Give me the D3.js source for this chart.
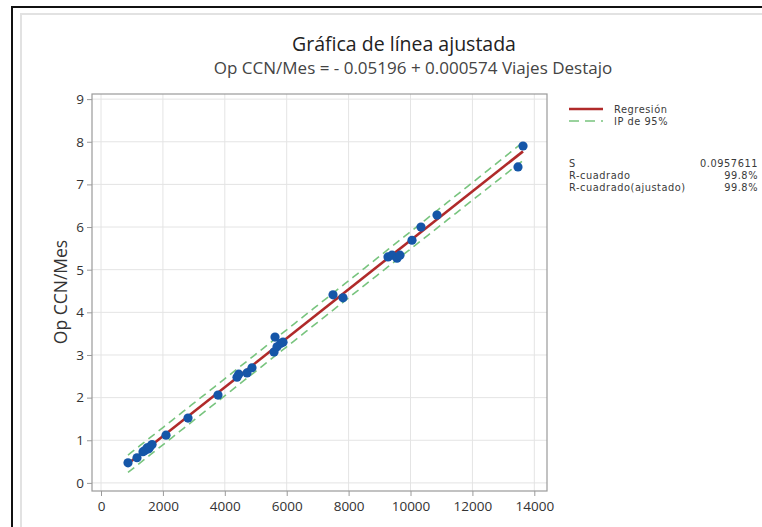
<!DOCTYPE html>
<html>
<head>
<meta charset="utf-8">
<script src="https://cdn.jsdelivr.net/npm/d3@7"></script>
<style>
  html, body { margin: 0; padding: 0; background: #fff; }
  svg { display: block; font-family: "Open Sans", "Noto Sans", sans-serif; }
</style>
</head>
<body>
<svg id="chart" width="762" height="527"></svg>
<script>
// Observations: Viajes Destajo vs Op CCN/Mes
const viajes = [872, 1163, 1357, 1420, 1486, 1540, 1583, 1650, 2100, 2811, 3780,
  4394, 4450, 4717, 4879, 5590, 5622, 5687, 5800, 5880,
  7496, 7819, 9273, 9402, 9564, 9660, 10048, 10339, 10856, 13473, 13635];
const opCCN = [0.47, 0.59, 0.73, 0.76, 0.82, 0.80, 0.85, 0.90, 1.12, 1.52, 2.06,
  2.48, 2.55, 2.58, 2.70, 3.07, 3.42, 3.19, 3.27, 3.30,
  4.41, 4.34, 5.30, 5.34, 5.27, 5.34, 5.69, 6.00, 6.28, 7.41, 7.90];

// Fitted model and summary statistics
const intercept = -0.05196;
const slope = 0.000574;
const sValue = 0.0957611;
const tCrit = 2.045;

const xTicks = [0, 2000, 4000, 6000, 8000, 10000, 12000, 14000];
const yTicks = [0, 1, 2, 3, 4, 5, 6, 7, 8, 9];

const legendLabels = ["Regresión", "IP de 95%"];
const statLabels = ["S", "R-cuadrado", "R-cuadrado(ajustado)"];
const statValues = ["0.0957611", "99.8%", "99.8%"];

const svg = d3.select("#chart");
const mainFont = "'Open Sans', 'Noto Sans', sans-serif";
const smallFont = "'DejaVu Sans', sans-serif";

// Outer frame and graph panel
svg.append("rect").attr("x", 12).attr("y", 7).attr("width", 800).attr("height", 600)
  .attr("fill", "none").attr("stroke", "#111").attr("stroke-width", 2);
svg.append("rect").attr("x", 21).attr("y", 14).attr("width", 800).attr("height", 600)
  .attr("fill", "#fff").attr("stroke", "#e2e2e2").attr("stroke-width", 2);

const plot = { left: 92, top: 94, right: 547, bottom: 491 };

const x = d3.scaleLinear().domain([-291, 14410]).range([plot.left, plot.right]);
const y = d3.scaleLinear().domain([-0.19, 9.12]).range([plot.bottom, plot.top]);

// Gridlines
const grid = svg.append("g");
grid.selectAll("line.gx").data(xTicks).join("line")
  .attr("x1", d => x(d)).attr("x2", d => x(d))
  .attr("y1", plot.top).attr("y2", plot.bottom)
  .attr("stroke", "#e4e4e4").attr("stroke-width", 1);
grid.selectAll("line.gy").data(yTicks).join("line")
  .attr("y1", d => y(d)).attr("y2", d => y(d))
  .attr("x1", plot.left).attr("x2", plot.right)
  .attr("stroke", "#e4e4e4").attr("stroke-width", 1);

// Plot frame
svg.append("rect")
  .attr("x", plot.left).attr("y", plot.top)
  .attr("width", plot.right - plot.left).attr("height", plot.bottom - plot.top)
  .attr("fill", "none").attr("stroke", "#9a9a9a").attr("stroke-width", 1.2);

// Axes
const xAxis = svg.append("g").attr("transform", `translate(0,${plot.bottom})`)
  .call(d3.axisBottom(x).tickValues(xTicks).tickSize(5).tickPadding(5).tickFormat(d3.format("d")));
const yAxis = svg.append("g").attr("transform", `translate(${plot.left},0)`)
  .call(d3.axisLeft(y).tickValues(yTicks).tickSize(5).tickPadding(3).tickFormat(d3.format("d")));
[xAxis, yAxis].forEach(a => {
  a.attr("font-family", null).attr("font-size", null);
  a.select(".domain").remove();
  a.selectAll(".tick line").attr("stroke", "#9a9a9a");
  a.selectAll(".tick text").attr("fill", "#333")
    .style("font-size", "13.5px").style("font-family", mainFont);
});

// Regression line and 95% prediction interval
const n = viajes.length;
const xMean = d3.mean(viajes);
const sxx = d3.sum(viajes, v => (v - xMean) ** 2);
const xMin = d3.min(viajes), xMax = d3.max(viajes);
const xs = d3.range(0, 101).map(i => xMin + (xMax - xMin) * i / 100);
const fit = v => intercept + slope * v;
const half = v => tCrit * sValue * Math.sqrt(1 + 1 / n + (v - xMean) ** 2 / sxx);

const line = d3.line().x(d => x(d[0])).y(d => y(d[1]));

svg.append("path").datum(xs.map(v => [v, fit(v) + half(v)]))
  .attr("d", line).attr("fill", "none")
  .attr("stroke", "#78c47e").attr("stroke-width", 1.6).attr("stroke-dasharray", "8,5");
svg.append("path").datum(xs.map(v => [v, fit(v) - half(v)]))
  .attr("d", line).attr("fill", "none")
  .attr("stroke", "#78c47e").attr("stroke-width", 1.6).attr("stroke-dasharray", "8,5");
svg.append("path").datum([[xMin, fit(xMin)], [xMax, fit(xMax)]])
  .attr("d", line).attr("fill", "none")
  .attr("stroke", "#b02a2a").attr("stroke-width", 2.6);

// Data points
svg.append("g").selectAll("circle").data(viajes).join("circle")
  .attr("cx", d => x(d)).attr("cy", (d, i) => y(opCCN[i]))
  .attr("r", 4.6).attr("fill", "#1556a8");

// Titles
svg.append("text").attr("x", 404).attr("y", 51).attr("text-anchor", "middle")
  .style("font-size", "19.5px").attr("fill", "#222").text("Gráfica de línea ajustada");
svg.append("text").attr("x", 413).attr("y", 74).attr("text-anchor", "middle")
  .style("font-size", "17px").attr("fill", "#444")
  .text("Op CCN/Mes = - 0.05196 + 0.000574 Viajes Destajo");

// Y axis title
svg.append("text").attr("transform", "translate(67,292) rotate(-90)")
  .attr("text-anchor", "middle").style("font-size", "17.5px").attr("fill", "#333")
  .text("Op CCN/Mes");

// Legend and summary statistics share one small-text style
const small = sel => sel.style("font-family", smallFont).style("font-size", "9.8px")
  .style("letter-spacing", "0.55px").attr("fill", "#3a3a3a");

const lg = svg.append("g");
lg.append("line").attr("x1", 569).attr("x2", 603).attr("y1", 109).attr("y2", 109)
  .attr("stroke", "#b02a2a").attr("stroke-width", 2.6);
lg.append("line").attr("x1", 569).attr("x2", 603).attr("y1", 121).attr("y2", 121)
  .attr("stroke", "#78c47e").attr("stroke-width", 1.6).attr("stroke-dasharray", "10,6");
lg.selectAll("text").data(legendLabels).join("text")
  .attr("x", 614).attr("y", (d, i) => 113 + i * 12)
  .call(small).text(d => d);

const st = svg.append("g");
st.selectAll("text.lab").data(statLabels).join("text").attr("class", "lab")
  .attr("x", 569).attr("y", (d, i) => 167 + i * 12)
  .call(small).text(d => d);
st.selectAll("text.val").data(statValues).join("text").attr("class", "val")
  .attr("x", 758).attr("y", (d, i) => 167 + i * 12).attr("text-anchor", "end")
  .call(small).text(d => d);
</script>
</body>
</html>
